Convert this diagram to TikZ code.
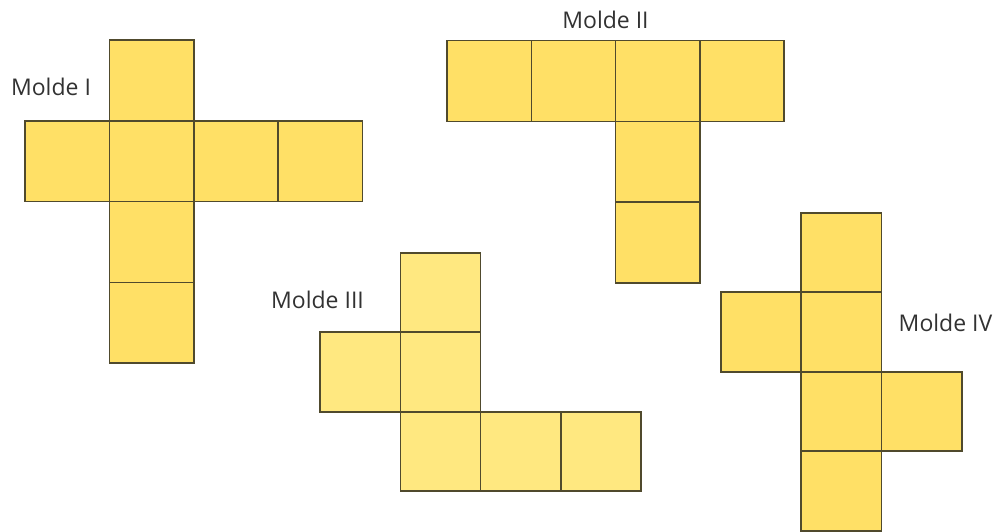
\documentclass[tikz,border=0pt]{standalone}
\usepackage{fontspec}
\setmainfont{Open Sans}
\begin{document}
\begin{tikzpicture}[x=1pt,y=-1pt,
  sqA/.style={draw={rgb,255:red,80;green,74;blue,45}, line width=1.6pt, fill={rgb,255:red,255;green,224;blue,102}, minimum width=84.3pt, minimum height=80.8pt, inner sep=0pt, outer sep=0pt},
  sqB/.style={sqA, minimum width=80.3pt, minimum height=79.5pt},
  sqC/.style={sqB, fill={rgb,255:red,255;green,232;blue,128}},
  lbl/.style={text={rgb,255:red,50;green,50;blue,50}, font=\fontsize{23}{27}\selectfont, inner sep=0pt}]
\useasboundingbox (0,0) rectangle (1001,531);
% Molde I
\node[sqA] (i1) at (151.6,80.4) {};
\node[sqA] (i2) at (67.2,161.2) {};
\node[sqA] (i3) at (151.6,161.2) {};
\node[sqA] (i4) at (236.0,161.2) {};
\node[sqA] (i5) at (320.4,161.2) {};
\node[sqA] (i6) at (151.6,242.0) {};
\node[sqA] (i7) at (151.6,322.8) {};
\node[lbl] (li) at (51,87) {Molde I};
% Molde II
\node[sqA] (ii1) at (489.2,80.9) {};
\node[sqA] (ii2) at (573.5,80.9) {};
\node[sqA] (ii3) at (657.8,80.9) {};
\node[sqA] (ii4) at (742.1,80.9) {};
\node[sqA] (ii5) at (657.8,161.7) {};
\node[sqA] (ii6) at (657.8,242.5) {};
\node[lbl] (lii) at (605.5,20) {Molde II};
% Molde III
\node[sqC] (iii1) at (440.45,292.45) {};
\node[sqC] (iii2) at (360.15,371.95) {};
\node[sqC] (iii3) at (440.45,371.95) {};
\node[sqC] (iii4) at (440.45,451.45) {};
\node[sqC] (iii5) at (520.75,451.45) {};
\node[sqC] (iii6) at (601.05,451.45) {};
\node[lbl] (liii) at (317.5,300) {Molde III};
% Molde IV
\node[sqB] (iv1) at (841.25,252.45) {};
\node[sqB] (iv2) at (760.95,331.95) {};
\node[sqB] (iv3) at (841.25,331.95) {};
\node[sqB] (iv4) at (841.25,411.45) {};
\node[sqB] (iv5) at (921.55,411.45) {};
\node[sqB] (iv6) at (841.25,490.95) {};
\node[lbl] (liv) at (945.5,323) {Molde IV};
\end{tikzpicture}
\end{document}
